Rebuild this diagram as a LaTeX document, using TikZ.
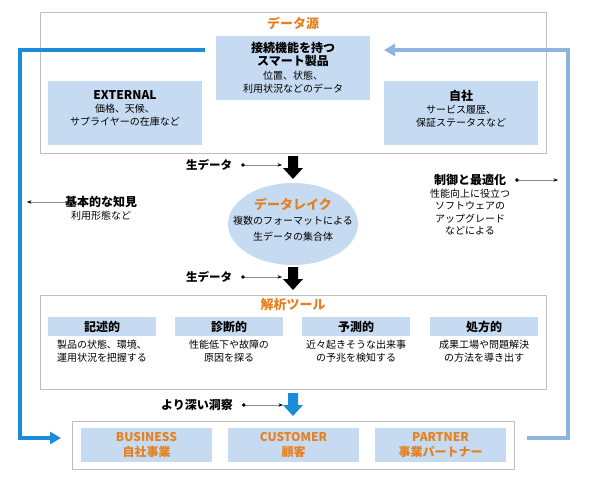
\documentclass[tikz,border=0pt]{standalone}
\usepackage{fontspec}
\setmainfont{Noto Sans CJK JP}
\usetikzlibrary{arrows.meta,shapes.geometric}
\definecolor{dsorange}{HTML}{E5801F}
\definecolor{dsblue}{HTML}{C6DBF1}
\definecolor{fbdark}{HTML}{1A8CD8}
\definecolor{fblight}{HTML}{8DB5DF}
\newcommand\hd[2][12]{{\bfseries\fontsize{#1}{13.5}\selectfont #2}}
\newcommand\bigdown[3]{\fill[#1] (#2,#3) ++(-5,0) -- ++(10,0) -- ++(0,12) -- ++(5,0) -- ++(-10,11) -- ++(-10,-11) -- ++(5,0) -- cycle;}

\tikzset{
	frame/.style={draw=black!25, line width=0.8pt, fill=white, inner sep=0pt},
	lbox/.style={fill=dsblue, inner sep=0pt, align=center, minimum width=154pt, minimum height=64pt, font=\fontsize{10}{13.5}\selectfont},
	hbox/.style={fill=dsblue, inner sep=0pt, minimum width=108pt, minimum height=19pt, font=\bfseries\fontsize{12}{14}\selectfont},
	obox/.style={fill=dsblue, inner sep=0pt, align=center, minimum width=131pt, minimum height=34pt, text=dsorange, font=\bfseries\fontsize{12}{15}\selectfont},
	txt/.style={align=center, inner sep=0pt, font=\fontsize{10}{13}\selectfont},
	ptr/.style={draw=black!45, line width=0.5pt, {Circle[length=3.5pt,color=black]}-{Stealth[length=4.5pt,color=black]}},
	fb/.style={line width=4pt, -{Triangle[length=11pt,width=12pt]}}
}

\begin{document}
\begin{tikzpicture}[x=1pt, y=-1pt]
	%%%%% START %%%%%
	\useasboundingbox[fill=white] (0,0) rectangle (590,482);
	
	% data sources
	\node[frame, minimum width=506pt, minimum height=141pt] (src) at (293,82.5) {};
	\node[text=dsorange] (srcT) at (293,23) {\hd[13]{データ源}};
	\node[lbox] (smart) at (293,68) {\hd{接続機能を持つ}\\\hd{スマート製品}\\位置、状態、\\利用状況などのデータ};
	\node[lbox] (ext) at (125,113) {};
	\node[txt] (extT) at (125,108.5) {\hd{EXTERNAL}\\価格、天候、\\サプライヤーの在庫など};
	\node[lbox] (own) at (461,113) {};
	\node[txt] (ownT) at (461,108.5) {\hd{自社}\\サービス履歴、\\保証ステータスなど};
	
	% raw data and lake
	\bigdown{black}{293}{156}
	\node[txt] (raw1) at (209,165) {\hd[11.5]{生データ}};
	\coordinate (raw1E) at (282,165);
	\draw[ptr, shorten <=9pt] (raw1.east) -- (raw1E);
	
	\node[ellipse, fill=dsblue, minimum width=130pt, minimum height=82pt, inner sep=0pt] (lake) at (293,224) {};
	\node[txt, font=\fontsize{10}{15.5}\selectfont] (lakeT) at (293,219.5) {\textcolor{dsorange}{\hd[13]{データレイク}}\\複数のフォーマットによる\\生データの集合体};
	
	\bigdown{black}{293}{267}
	\node[txt] (raw2) at (209,277) {\hd[11.5]{生データ}};
	\coordinate (raw2E) at (282,277);
	\draw[ptr, shorten <=9pt] (raw2.east) -- (raw2E);
	
	% side notes
	\node[txt] (knowH) at (101,202) {\hd{基本的な知見}};
	\node[txt] (knowT) at (101,215.5) {利用形態など};
	\coordinate (knowE) at (27,202);
	\draw[draw=black!45, line width=0.5pt, -{Stealth[length=4.5pt,color=black]}] (knowH.west) -- (knowE);
	
	\node[txt] (ctrlH) at (470,180) {\hd{制御と最適化}};
	\node[txt, font=\fontsize{10}{12.5}\selectfont] (ctrlT) at (470,212) {性能向上に役立つ\\ソフトウェアの\\アップグレード\\などによる};
	\coordinate (ctrlE) at (558,180);
	\draw[ptr, shorten <=9pt] (ctrlH.east) -- (ctrlE);
	
	% analysis tools
	\node[frame, minimum width=506pt, minimum height=94pt] (tool) at (293,342) {};
	\node[text=dsorange] (toolT) at (293,305) {\hd[13]{解析ツール}};
	\node[hbox] (d1) at (102,326.5) {記述的};
	\node[hbox] (d2) at (229,326.5) {診断的};
	\node[hbox] (d3) at (356,326.5) {予測的};
	\node[hbox] (d4) at (484,326.5) {処方的};
	\node[txt] (b1) at (102,351.5) {製品の状態、環境、\\運用状況を把握する};
	\node[txt] (b2) at (229,351.5) {性能低下や故障の\\原因を探る};
	\node[txt] (b3) at (356,351.5) {近々起きそうな出来事\\の予兆を検知する};
	\node[txt] (b4) at (484,351.5) {成果工場や問題解決\\の方法を導き出す};
	
	% insight
	\bigdown{fbdark}{293}{393}
	\node[txt] (deep) at (197,405) {\hd{より深い洞察}};
	\coordinate (deepE) at (283,405);
	\draw[ptr, shorten <=9pt] (deep.east) -- (deepE);
	
	\node[frame, minimum width=442pt, minimum height=48pt] (out) at (293,445) {};
	\node[obox] (o1) at (146.5,445) {BUSINESS\\自社事業};
	\node[obox] (o2) at (293.5,445) {CUSTOMER\\顧客};
	\node[obox] (o3) at (440.5,445) {PARTNER\\事業パートナー};
	
	% feedback loops
	\coordinate (fbS) at (205,50);
	\coordinate (fbE) at (61,438);
	\draw[fb, fbdark] (fbS) -| (20,438) -- (fbE);
	\coordinate (fbR) at (527,438);
	\coordinate (fbT) at (384,50);
	\draw[fb, fblight] (fbR) -| (568,50) -- (fbT);
	
	%%%%% END %%%%%
\end{tikzpicture}
\end{document}
